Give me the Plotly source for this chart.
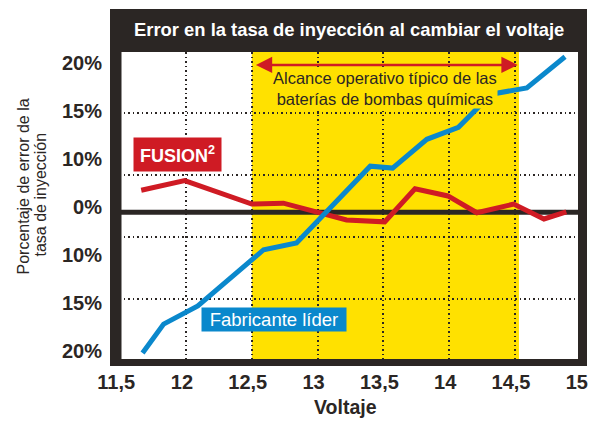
import plotly.graph_objects as go

# ---- data (y values are in the chart's stepped-scale units: 0 = "0%", ±1 = "10%", ±2 = "15%", ±3 = "20%")
voltaje_fusion = [11.66, 11.99, 12.50, 12.74, 13.22, 13.51, 13.74, 13.99, 14.21, 14.49, 14.72, 14.89]
error_fusion = [0.35, 0.55, 0.06, 0.08, -0.27, -0.31, 0.38, 0.23, -0.12, 0.06, -0.25, -0.10]

voltaje_fabricante = [11.67, 11.83, 12.09, 12.59, 12.84, 13.40, 13.57, 13.83, 14.07, 14.32, 14.59, 14.88]
error_fabricante = [-3.04, -2.44, -2.06, -0.89, -0.75, 0.85, 0.81, 1.41, 1.66, 2.35, 2.48, 3.13]

x_ticks = [11.5, 12, 12.5, 13, 13.5, 14, 14.5, 15]
x_tick_labels = ["11,5", "12", "12,5", "13", "13,5", "14", "14,5", "15"]
y_ticks = [3, 2, 1, 0, -1, -2, -3]
y_tick_labels = ["20%", "15%", "10%", "0%", "10%", "15%", "20%"]
y_grid = [1.96, 0.67, -0.63, -1.92]
linea_cero = -0.11
rango_operativo = [12.5, 14.53]
flecha_y = 2.96

RED = "#cf1b24"
BLUE = "#0a88cc"
YELLOW = "#ffe100"
DARK = "#2b2624"
FONT = "Liberation Sans, Arial, sans-serif"

fig = go.Figure()
fig.add_trace(go.Scatter(x=voltaje_fusion, y=error_fusion, mode="lines",
                         line=dict(color=RED, width=5), name="FUSION²",
                         showlegend=False, hoverinfo="skip"))
fig.add_trace(go.Scatter(x=voltaje_fabricante, y=error_fabricante, mode="lines",
                         line=dict(color=BLUE, width=5), name="Fabricante líder",
                         showlegend=False, hoverinfo="skip", yaxis="y2"))

yr = [-3.167, 3.229]
fig.update_layout(
    width=595, height=421,
    margin=dict(l=119, r=14, t=52, b=62, autoexpand=False),
    paper_bgcolor="white",
    plot_bgcolor="rgba(0,0,0,0)",
    font=dict(family=FONT, color=DARK),
    showlegend=False,
    xaxis=dict(range=[11.491, 15.0015], tickvals=x_ticks, ticktext=x_tick_labels,
               showgrid=True, gridcolor=DARK, gridwidth=1.5, griddash="1.5px,3px",
               zeroline=False, showline=False, ticks="", automargin=False,
               tickfont=dict(size=20, color=DARK, weight="bold"), ticklabelshift=-4,
               ticklabelstandoff=9),
    yaxis=dict(range=yr, tickvals=y_ticks, ticktext=y_tick_labels,
               showgrid=False, zeroline=False, showline=False, ticks="", automargin=False,
               tickfont=dict(size=20, color=DARK, weight="bold"), ticklabelstandoff=16),
    yaxis2=dict(range=yr, overlaying="y", tickvals=y_grid, showticklabels=False,
                showgrid=True, gridcolor=DARK, gridwidth=1.5, griddash="1.5px,3px",
                zeroline=False, showline=False, ticks="", automargin=False),
)

def px_x(p):
    return (p - 119) / 462.0

def px_y(p):
    return (359 - p) / 307.0

shapes = [
    # dark frame
    dict(type="rect", xref="paper", yref="paper", x0=px_x(110), x1=px_x(587),
         y0=px_y(366), y1=px_y(9), fillcolor=DARK, line=dict(width=0), layer="below"),
    # white inner area
    dict(type="rect", xref="paper", yref="paper", x0=px_x(119), x1=px_x(578),
         y0=0, y1=1, fillcolor="white", line=dict(width=0), layer="below"),
    # typical operating range band
    dict(type="rect", xref="x", yref="paper", x0=rango_operativo[0], x1=rango_operativo[1],
         y0=0, y1=1, fillcolor=YELLOW, line=dict(width=0), layer="below"),
    # zero reference line
    dict(type="line", xref="paper", yref="y", x0=px_x(115), x1=px_x(582),
         y0=linea_cero, y1=linea_cero, line=dict(color=DARK, width=5), layer="between"),
    # frame bands on top (cover edge gridlines)
    dict(type="rect", xref="paper", yref="paper", x0=px_x(110), x1=px_x(121.5),
         y0=px_y(366), y1=px_y(9), fillcolor=DARK, line=dict(width=0), layer="above"),
    dict(type="rect", xref="paper", yref="paper", x0=px_x(578), x1=px_x(587),
         y0=px_y(366), y1=px_y(9), fillcolor=DARK, line=dict(width=0), layer="above"),
    dict(type="rect", xref="paper", yref="paper", x0=px_x(110), x1=px_x(587),
         y0=px_y(366), y1=px_y(359), fillcolor=DARK, line=dict(width=0), layer="above"),
    dict(type="rect", xref="paper", yref="paper", x0=px_x(110), x1=px_x(587),
         y0=px_y(52), y1=px_y(9), fillcolor=DARK, line=dict(width=0), layer="above"),
]
fig.update_layout(shapes=shapes)

annotations = [
    dict(text="<b>Error en la tasa de inyección al cambiar el voltaje</b>",
         xref="paper", yref="paper", x=px_x(348.5), y=px_y(30),
         xanchor="center", yanchor="middle", showarrow=False,
         font=dict(size=18.4, color="white", family=FONT)),
    dict(text="Alcance operativo típico de las<br>baterías de bombas químicas",
         xref="paper", yref="paper", x=px_x(385), y=px_y(88),
         xanchor="center", yanchor="middle", showarrow=False, bgcolor=YELLOW,
         borderpad=0, font=dict(size=16.5, color=DARK, family=FONT)),
    dict(text="", xref="x", yref="y", x=rango_operativo[1] - 0.01, y=flecha_y,
         axref="x", ayref="y", ax=rango_operativo[0] + 0.02, ay=flecha_y,
         showarrow=True, arrowhead=2, arrowside="end+start", arrowsize=1.3,
         arrowwidth=2.5, arrowcolor=RED),
    dict(text="<b>FUSION<sup>2</sup></b>", xref="paper", yref="paper",
         x=px_x(177.5), y=px_y(154.5), xanchor="center", yanchor="middle",
         showarrow=False, bgcolor=RED, borderpad=5, width=77, height=23,
         font=dict(size=18, color="white", family=FONT)),
    dict(text="Fabricante líder", xref="paper", yref="paper",
         x=px_x(274), y=px_y(319.5), xanchor="center", yanchor="middle",
         showarrow=False, bgcolor=BLUE, borderpad=1, width=142, height=21,
         font=dict(size=18.5, color="white", family=FONT)),
    dict(text="Porcentaje de error de la", xref="paper", yref="paper",
         x=px_x(23), y=px_y(186.5), xanchor="center", yanchor="middle",
         textangle=-90, showarrow=False, font=dict(size=16, color=DARK, family=FONT)),
    dict(text="tasa de inyección", xref="paper", yref="paper",
         x=px_x(40), y=px_y(194.5), xanchor="center", yanchor="middle",
         textangle=-90, showarrow=False, font=dict(size=16, color=DARK, family=FONT)),
    dict(text="<b>Voltaje</b>", xref="paper", yref="paper",
         x=px_x(345), y=px_y(407), xanchor="center", yanchor="middle",
         showarrow=False, font=dict(size=19.5, color=DARK, family=FONT)),
]
fig.update_layout(annotations=annotations)

fig.write_html("out.html", config={"displayModeBar": False},
               post_script="document.body.style.margin='0';")
